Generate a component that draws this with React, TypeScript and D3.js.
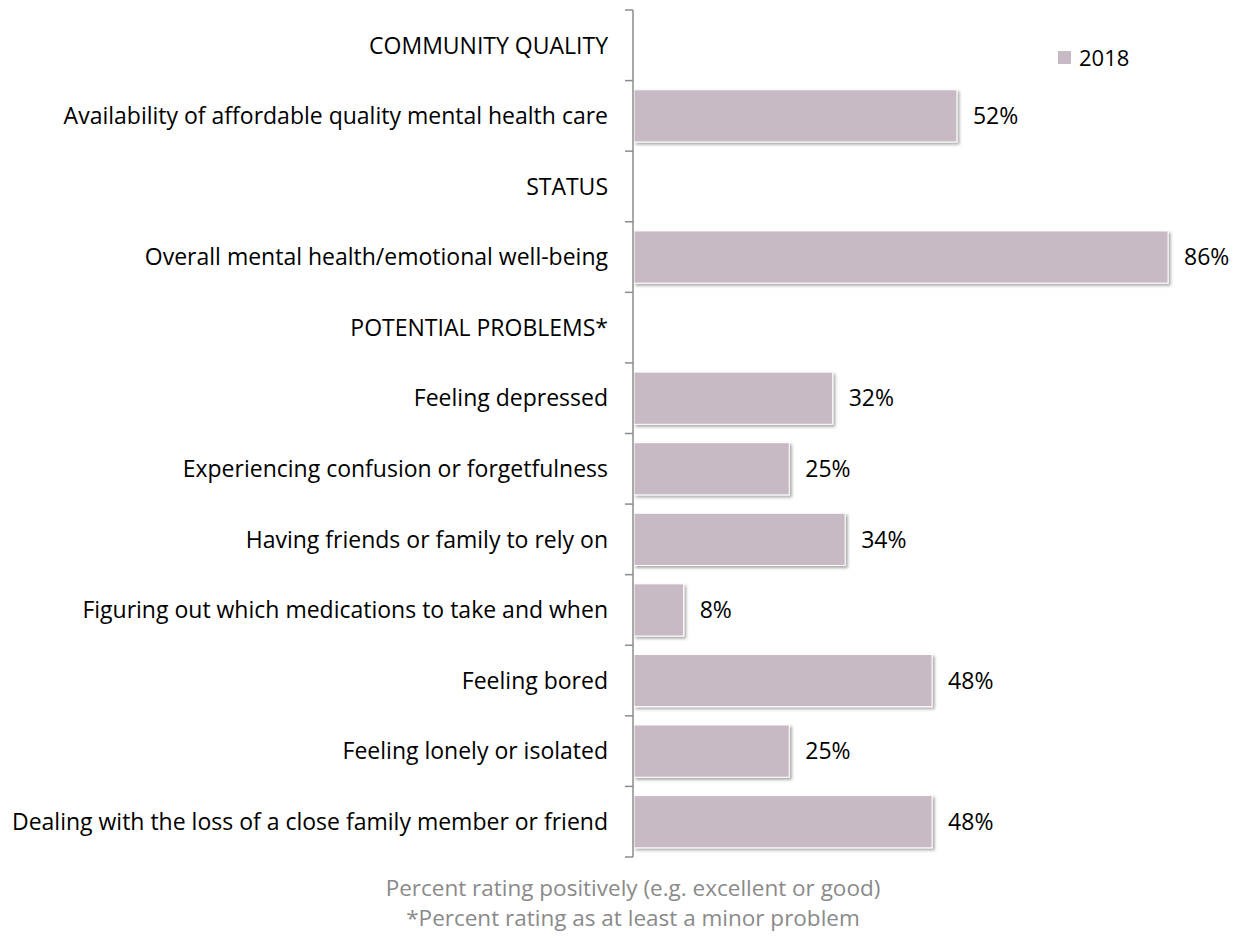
import React from "react";
import * as d3 from "d3";

const categories = [
  "COMMUNITY QUALITY",
  "Availability of affordable quality mental health care",
  "STATUS",
  "Overall mental health/emotional well-being",
  "POTENTIAL PROBLEMS*",
  "Feeling depressed",
  "Experiencing confusion or forgetfulness",
  "Having friends or family to rely on",
  "Figuring out which medications to take and when",
  "Feeling bored",
  "Feeling lonely or isolated",
  "Dealing with the loss of a close family member or friend",
];
const values2018: (number | null)[] = [null, 52, null, 86, null, 32, 25, 34, 8, 48, 25, 48];
const seriesName = "2018";
const footnotes = [
  "Percent rating positively (e.g. excellent or good)",
  "*Percent rating as at least a minor problem",
];

const W = 1247;
const H = 939;
const FONT = "'Open Sans', Lato, sans-serif";
const BAR = "#c8bac4";

export default function App() {
  const axisX = 633;
  const y = d3.scaleBand<string>().domain(categories).range([10, 857]).paddingInner(0.26).paddingOuter(0.13);
  const yFull = d3.scaleBand<string>().domain(categories).range([10, 857]);
  const x = d3.scaleLinear().domain([0, 100]).range([axisX, axisX + 621]);
  const ticks = d3.range(categories.length + 1).map((i) => 10 + (i * (857 - 10)) / categories.length);

  return (
    <svg width={W} height={H} style={{ position: "absolute", left: 0, top: 0, background: "#fff" }} fontFamily={FONT}>
      <defs>
        <filter id="sh" x="-5%" y="-20%" width="115%" height="160%">
          <feDropShadow dx="2" dy="2" stdDeviation="1.6" floodColor="#000" floodOpacity="0.35" />
        </filter>
      </defs>
      {categories.map((c, i) => {
        const v = values2018[i];
        if (v == null) return null;
        const y0 = y(c)!;
        return (
          <g key={c}>
            <rect x={x(0) + 1} y={y0} width={x(v) - x(0)} height={y.bandwidth()} fill={BAR} stroke="#fff" strokeWidth={1} filter="url(#sh)" />
            <text x={x(v) + 17} y={y0 + y.bandwidth() / 2} dy="0.36em" fontSize={23} fill="#000">
              {v}%
            </text>
          </g>
        );
      })}
      <line x1={axisX} x2={axisX} y1={10} y2={857} stroke="#8c8c8c" strokeWidth={1.5} />
      {ticks.map((t, i) => (
        <line key={i} x1={axisX - 8} x2={axisX} y1={t} y2={t} stroke="#8c8c8c" strokeWidth={1.5} />
      ))}
      {categories.map((c) => (
        <text key={c} x={608} y={yFull(c)! + yFull.bandwidth() / 2} dy="0.36em" textAnchor="end" fontSize={23} fill="#000">
          {c}
        </text>
      ))}
      <rect x={1058} y={51} width={13} height={13} fill={BAR} />
      <text x={1079} y={66} fontSize={22} fill="#000">
        {seriesName}
      </text>
      {footnotes.map((f, i) => (
        <text key={f} x={633} y={896 + i * 30} textAnchor="middle" fontSize={22.5} fill="#8a8a8a">
          {f}
        </text>
      ))}
    </svg>
  );
}
